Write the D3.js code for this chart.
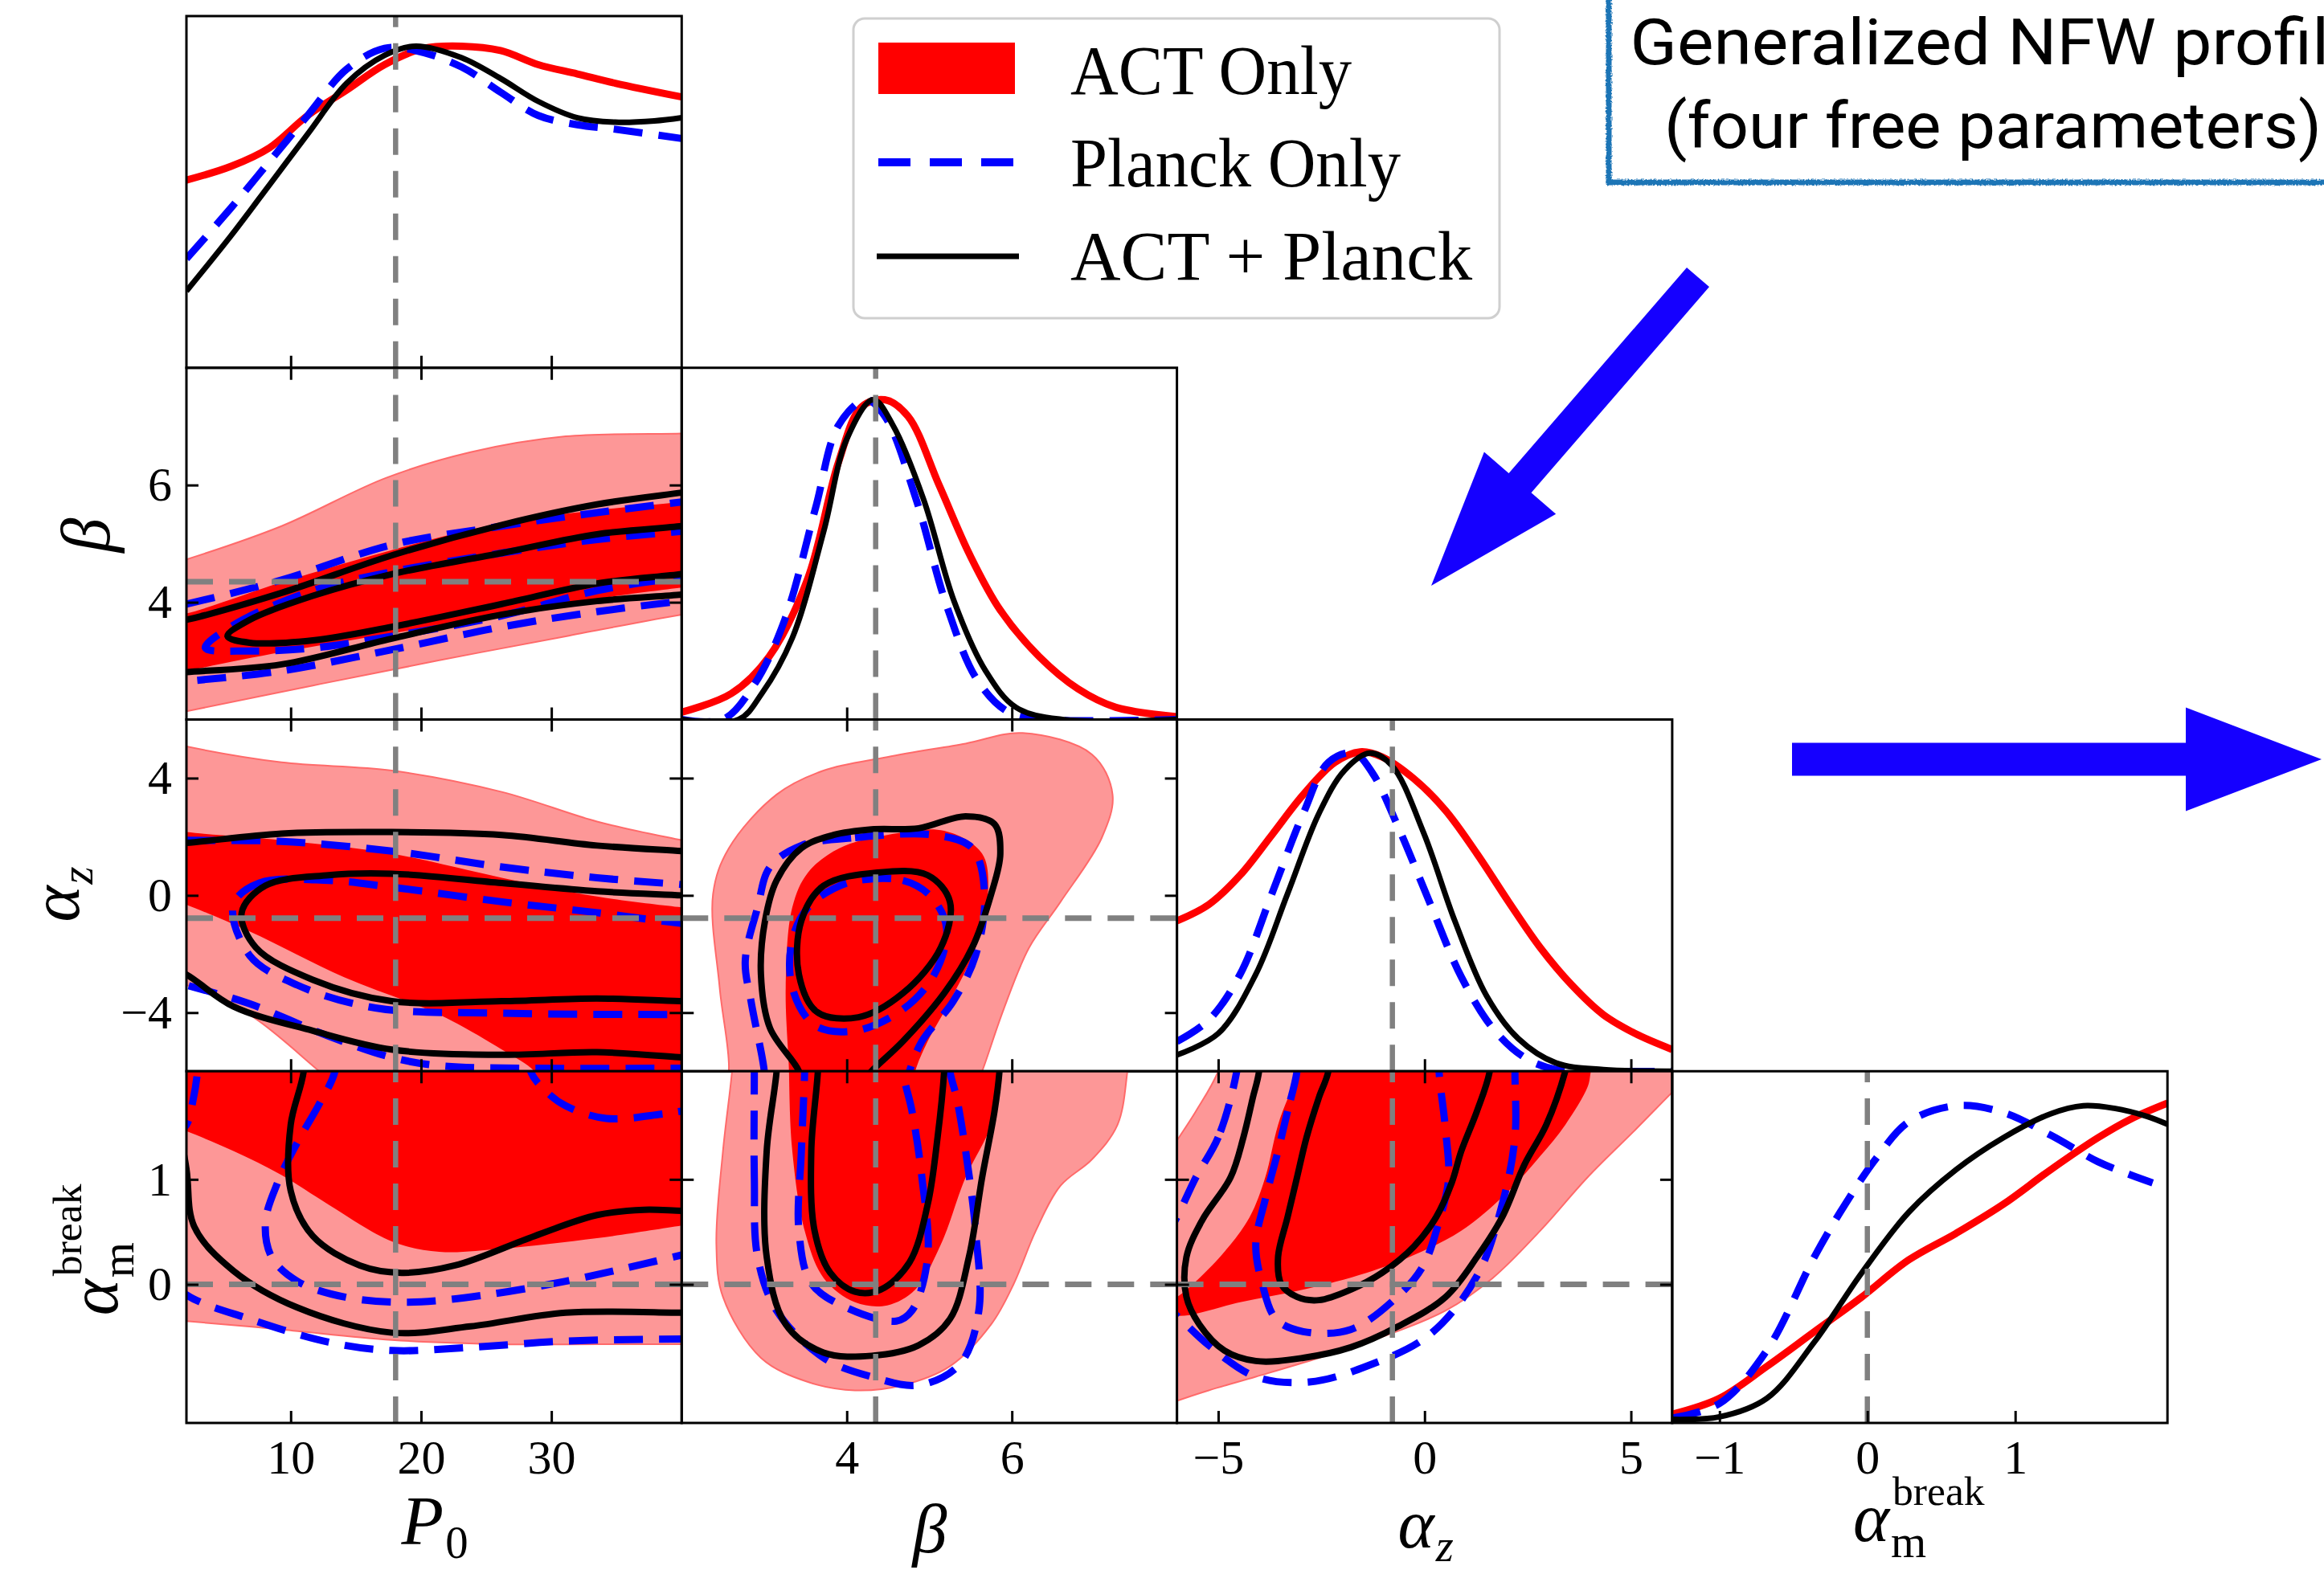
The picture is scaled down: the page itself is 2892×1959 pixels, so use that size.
<!DOCTYPE html>
<html>
<head>
<meta charset="utf-8">
<script src="https://cdn.jsdelivr.net/npm/d3@7"></script>
<style>
  html, body { margin: 0; padding: 0; background: #fff; }
  svg { display: block; }
  text { font-family: "Liberation Serif", "DejaVu Serif", serif; }
  text.note { font-family: Roboto, "Open Sans", sans-serif; }
</style>
</head>
<body>
<svg id="chart" width="2892" height="1959"></svg>
<script>
// axis ranges, ticks and fiducial values, one entry per parameter
var DOMAINS = [[2, 40], [2, 8], [-6, 6], [-1.32, 2.03]];
var X_TICKS = [[10, 20, 30], [4, 6], [-5, 0, 5], [-1, 0, 1]];
var Y_TICKS = [[], [4, 6], [-4, 0, 4], [0, 1]];
var TRUTH = [18.05, 4.35, -0.78, 0];
var LEGEND_LABELS = ["ACT Only", "Planck Only", "ACT + Planck"];

// 1D marginals: [value, normalised density]
var P0_ACT = [[2,0.587],[5.42,0.63],[8.37,0.688],[11.3,0.789],[14.3,0.869],[17.2,0.948],[20.2,0.999],[23.1,1.006],[26.1,0.992],[29,0.948],[32,0.919],[34.9,0.89],[40,0.847]];
var P0_PLANCK = [[2,0.341],[5.42,0.5],[8.37,0.645],[11.3,0.789],[14.3,0.934],[17.2,0.999],[19.6,0.992],[23.1,0.941],[26.1,0.862],[29,0.789],[32,0.76],[34.9,0.746],[40,0.717]];
var P0_BOTH = [[2,0.24],[5.42,0.413],[8.37,0.572],[11.3,0.731],[14.3,0.89],[17.2,0.977],[19.6,1.006],[23.1,0.97],[26.1,0.905],[29,0.833],[32,0.782],[34.9,0.768],[37.9,0.772],[40,0.782]];

var BETA_ACT = [[2,0.023],[2.6,0.081],[3.06,0.197],[3.53,0.443],[3.9,0.805],[4.18,0.978],[4.46,1.0],[4.74,0.949],[5.12,0.732],[5.49,0.515],[5.86,0.342],[6.33,0.197],[6.8,0.096],[7.26,0.038],[8,0.009]];
var BETA_PLANCK = [[2,0],[2.5,0],[2.88,0.11],[3.25,0.313],[3.62,0.66],[3.9,0.92],[4.23,1.0],[4.46,0.949],[4.84,0.689],[5.21,0.356],[5.58,0.124],[5.96,0.023],[6.42,0],[8,0]];
var BETA_BOTH = [[2,0],[2.69,0],[2.97,0.081],[3.34,0.255],[3.72,0.588],[4.0,0.877],[4.32,1.0],[4.56,0.92],[4.93,0.689],[5.3,0.37],[5.68,0.153],[6.05,0.038],[6.61,0],[8,0]];

var AZ_ACT = [[-6,0.47],[-5.23,0.521],[-4.47,0.613],[-3.7,0.739],[-2.94,0.865],[-2.17,0.966],[-1.56,0.999],[-1.03,0.983],[-0.26,0.915],[0.51,0.815],[1.27,0.68],[2.04,0.529],[2.8,0.387],[3.57,0.269],[4.33,0.177],[5.1,0.118],[6,0.068]];
var AZ_PLANCK = [[-6,0.093],[-5.23,0.16],[-4.47,0.303],[-3.7,0.555],[-2.94,0.806],[-2.33,0.966],[-1.71,0.995],[-1.26,0.932],[-0.64,0.764],[0.12,0.529],[0.89,0.295],[1.65,0.135],[2.42,0.043],[3.18,0.005],[4,0],[6,0]];
var AZ_BOTH = [[-6,0.051],[-5.0,0.118],[-4.09,0.303],[-3.32,0.555],[-2.56,0.806],[-1.94,0.941],[-1.33,0.995],[-0.8,0.957],[-0.03,0.748],[0.73,0.471],[1.5,0.236],[2.27,0.102],[3.18,0.026],[4.33,0.005],[6,0]];

var AM_ACT = [[-1.32,0.027],[-1.0,0.077],[-0.68,0.177],[-0.36,0.285],[-0.04,0.393],[0.28,0.51],[0.6,0.593],[0.92,0.684],[1.24,0.792],[1.56,0.892],[1.78,0.95],[2.03,1.0]];
var AM_PLANCK = [[-1.32,0.015],[-1.0,0.061],[-0.68,0.227],[-0.36,0.518],[-0.15,0.684],[0.07,0.834],[0.28,0.942],[0.6,0.992],[0.92,0.971],[1.24,0.9],[1.56,0.817],[1.78,0.776],[1.93,0.751]];
var AM_BOTH = [[-1.32,0.011],[-1.0,0.019],[-0.68,0.077],[-0.36,0.252],[-0.04,0.468],[0.28,0.659],[0.6,0.792],[0.92,0.892],[1.24,0.967],[1.46,0.992],[1.67,0.984],[1.89,0.959],[2.03,0.934]];

// 2D contours [x, y]; points past the panel edge close the regions that leave the frame
var PB_ACT95 = [[0,4.6],[2,4.73],[9.3,5.3],[17.3,6.12],[23.8,6.56],[31.1,6.83],[40,6.88],[42,6.9],[42,3.85],[40,3.79],[31.1,3.42],[21.4,3.01],[11.7,2.58],[2,2.14],[0,2.05]];
var PB_ACT68 = [[0,3.75],[2,3.81],[9.3,4.34],[17.75,4.89],[26.2,5.35],[33.5,5.57],[40,5.71],[42,5.76],[42,4.3],[40,4.25],[33.5,4.06],[26.2,3.79],[17.75,3.47],[9.3,3.15],[2,2.83],[0,2.75]];
var PB_PLANCK95 = [[0,3.88],[2,3.97],[9.3,4.38],[17.75,4.98],[26.2,5.30],[33.5,5.53],[40,5.71],[42,5.76],[42,4.07],[40,4.02],[33.5,3.84],[26.2,3.58],[17.75,3.19],[9.3,2.83],[2,2.65],[0,2.6]];
var PB_PLANCK68 = [[3.45,3.22],[5.6,3.61],[11.7,4.20],[17.75,4.52],[26.2,4.84],[33.5,5.07],[40,5.21],[42,5.25],[42,4.5],[40,4.43],[33.5,4.2],[26.2,3.77],[17.75,3.42],[11.7,3.22],[6.85,3.17]];
var PB_BOTH95 = [[0,3.62],[2,3.70],[9.3,4.16],[17.75,4.8],[26.2,5.32],[33.5,5.67],[40,5.87],[42,5.93],[42,4.18],[40,4.13],[33.5,4.02],[26.2,3.79],[17.75,3.38],[9.3,2.94],[2,2.81],[0,2.78]];
var PB_BOTH68 = [[5.15,3.42],[6.85,3.70],[11.7,4.11],[17.75,4.48],[26.2,4.84],[33.5,5.16],[40,5.30],[42,5.36],[42,4.55],[40,4.48],[33.5,4.32],[26.2,3.97],[17.75,3.58],[11.7,3.35],[6.85,3.31]];

var PZ_ACT95 = [[0,5.3],[2,5.08],[9.3,4.54],[17.75,4.26],[26.2,3.53],[33.5,2.52],[40,1.88],[42,1.7],[42,-7],[13.6,-6.5],[12.2,-6],[6.85,-4.07],[2,-3.06],[0,-2.9]];
var PZ_ACT68 = [[0,2.3],[2,2.16],[9.3,1.88],[17.75,1.42],[26.2,0.6],[33.5,-0.04],[40,-0.41],[42,-0.5],[42,-7],[29.5,-6.6],[28.7,-6],[26.2,-5.26],[21.4,-4.07],[14.1,-2.79],[6.85,-1.23],[2,-0.32],[0,0]];
var PZ_PLANCK95 = [[0,1.9],[2,1.88],[9.3,1.84],[17.75,1.51],[26.2,0.97],[33.5,0.6],[40,0.37],[42,0.3],[42,-5.92],[40,-5.9],[28.7,-5.9],[21.4,-5.81],[17.75,-5.53],[12.9,-4.8],[6.85,-3.7],[2,-3.06],[0,-2.8]];
var PZ_PLANCK68 = [[5.6,-0.32],[7.6,0.42],[12.9,0.51],[17.75,0.28],[26.2,-0.22],[33.5,-0.59],[40,-0.96],[42,-1.05],[42,-4.08],[40,-4.07],[26.2,-4.02],[16.5,-3.84],[10.5,-3.06],[6.85,-2.05]];
var PZ_BOTH95 = [[0,1.75],[2,1.79],[9.3,2.11],[17.75,2.16],[26.2,2.06],[33.5,1.70],[40,1.51],[42,1.45],[42,-5.6],[40,-5.53],[33.5,-5.35],[26.2,-5.44],[17.75,-5.26],[11.7,-4.62],[5.6,-3.79],[2,-2.7],[0,-2.3]];
var PZ_BOTH68 = [[6.24,-0.59],[8.06,0.33],[12.9,0.69],[17.75,0.74],[26.2,0.42],[33.5,0.14],[40,0],[42,-0.05],[42,-3.62],[40,-3.61],[33.5,-3.52],[26.2,-3.61],[17.75,-3.61],[11.7,-2.88],[7.33,-1.78]];

var BZ_ACT95 = [[6.13,5.54],[6.97,4.81],[7.22,3.44],[7.09,1.97],[6.59,-0.22],[6.21,-1.78],[5.9,-3.89],[5.64,-6],[5.55,-6.6],[2.5,-6.6],[2.57,-6],[2.46,-3.15],[2.38,0.05],[2.57,1.6],[3.15,3.44],[3.72,4.26],[4.49,4.72],[5.44,5.18]];
var BZ_ACT68 = [[5.18,2.2],[5.64,1.42],[5.71,0.05],[5.56,-1.78],[5.25,-3.61],[4.98,-4.98],[4.83,-6],[4.8,-6.6],[3.3,-6.6],[3.3,-6],[3.26,-3.15],[3.34,-0.41],[3.53,0.78],[3.91,1.61],[4.49,2.06]];
var BZ_PLANCK95 = [[3.45,1.7],[4.1,1.97],[5.06,2.06],[5.52,1.61],[5.67,0.05],[5.56,-2.05],[5.29,-3.61],[4.91,-4.98],[4.76,-6],[4.72,-6.5],[3.0,-6.5],[3.0,-6],[2.84,-3.61],[2.77,-2.24],[2.92,-0.41],[3.07,0.97]];
var BZ_PLANCK68 = [[4.14,0.51],[4.68,0.51],[5.02,-0.04],[5.21,-1.14],[5.06,-2.7],[4.68,-3.89],[4.1,-4.62],[3.61,-4.43],[3.34,-3.15],[3.34,-1.5],[3.53,-0.41],[3.84,0.23]];
var BZ_BOTH95 = [[4.3,2.25],[4.87,2.29],[5.44,2.7],[5.79,2.43],[5.86,1.42],[5.75,0.05],[5.52,-1.78],[5.18,-3.34],[4.68,-4.98],[4.3,-6],[4.15,-6.5],[3.45,-6.5],[3.42,-6],[3.07,-4.53],[2.96,-2.7],[3.01,-0.86],[3.15,0.51],[3.45,1.61],[3.84,2.06]];
var BZ_BOTH68 = [[4.37,0.78],[4.98,0.69],[5.25,-0.22],[5.14,-1.78],[4.68,-3.34],[4.14,-4.16],[3.64,-3.98],[3.42,-2.7],[3.45,-0.86],[3.72,0.33]];

var PM_ACT95 = [[0,2.6],[42,2.6],[42,-0.57],[40,-0.57],[33.5,-0.57],[26.2,-0.57],[17.75,-0.53],[9.3,-0.43],[2,-0.35],[0,-0.33]];
var PM_ACT68 = [[0,2.6],[42,2.6],[42,0.6],[40,0.56],[33.5,0.44],[26.2,0.34],[21.4,0.31],[17.75,0.41],[12.9,0.76],[9.3,1.04],[5.6,1.27],[2,1.46],[0,1.55]];
var PM_PLANCK95 = [[3.0,2.6],[42,2.6],[42,-0.52],[40,-0.52],[31.1,-0.54],[23.8,-0.6],[17.75,-0.63],[12.9,-0.55],[6.85,-0.33],[2,-0.10],[0.5,0.1],[0.5,1.35],[2.0,1.52],[2.5,1.75],[2.85,2.03]];
var PM_PLANCK68 = [[13.4,2.03],[12.2,1.72],[10.5,1.35],[9.0,0.97],[8.06,0.59],[8.54,0.26],[10.5,0.03],[14.1,-0.12],[19,-0.17],[25,-0.10],[31.1,0.03],[35.9,0.16],[40,0.28],[42,0.34],[42,1.66],[40,1.65],[38.4,1.62],[34.2,1.58],[31.1,1.70],[29.5,1.85],[28.4,2.03],[27.8,2.6],[13.8,2.6]];
var PM_BOTH95 = [[0,2.6],[42,2.6],[42,-0.27],[40,-0.27],[31.1,-0.27],[23.8,-0.4],[17.75,-0.46],[10.5,-0.22],[5.6,0.13],[2.6,0.55],[2.0,1.1],[1.0,1.8]];
var PM_BOTH68 = [[11.2,2.6],[42,2.6],[42,0.7],[40,0.7],[37.1,0.71],[33.5,0.66],[28.7,0.46],[22.6,0.18],[18.5,0.11],[15.3,0.18],[11.7,0.46],[10,0.89],[10,1.52],[11,2.03]];

var BM_ACT95 = [[2.61,2.03],[2.5,1.27],[2.42,0.38],[2.5,-0.12],[2.96,-0.70],[3.53,-0.93],[4.1,-1.01],[4.68,-0.96],[5.25,-0.78],[5.75,-0.38],[6.02,0],[6.29,0.51],[6.59,0.94],[6.97,1.19],[7.28,1.52],[7.4,2.03],[7.45,2.5],[2.65,2.5]];
var BM_ACT68 = [[3.3,2.03],[3.34,1.27],[3.49,0.51],[3.72,0.06],[4.1,-0.17],[4.49,-0.2],[4.83,-0.05],[5.14,0.38],[5.44,1.02],[5.75,1.52],[5.87,2.03],[5.92,2.5],[3.3,2.5]];
var BM_PLANCK95 = [[2.88,2.03],[2.88,1.02],[2.92,0.26],[3.15,-0.25],[3.72,-0.7],[4.3,-0.88],[4.87,-0.96],[5.37,-0.76],[5.6,-0.25],[5.56,0.51],[5.44,1.27],[5.33,1.78],[5.25,2.03],[5.22,2.5],[2.88,2.5]];
var BM_PLANCK68 = [[3.49,2.03],[3.45,1.27],[3.42,0.51],[3.57,0.01],[3.99,-0.22],[4.6,-0.35],[4.79,-0.25],[4.98,0.26],[4.91,1.02],[4.79,1.65],[4.68,2.03],[4.66,2.5],[3.5,2.5]];
var BM_BOTH95 = [[3.15,2.03],[3.03,1.27],[3.03,0.26],[3.26,-0.38],[3.72,-0.65],[4.3,-0.68],[4.87,-0.58],[5.25,-0.33],[5.48,0.26],[5.64,1.02],[5.79,1.65],[5.85,2.03],[5.87,2.5],[3.18,2.5]];
var BM_BOTH68 = [[3.65,2.03],[3.57,1.27],[3.61,0.51],[3.8,0.11],[4.1,-0.07],[4.41,-0.05],[4.76,0.21],[4.98,0.76],[5.1,1.4],[5.18,2.03],[5.2,2.5],[3.67,2.5]];

var ZM_ACT95 = [[-6.6,1.0],[-6,1.37],[-5.54,1.65],[-5.0,2.03],[-4.6,2.6],[6.6,2.6],[6.6,2.06],[6,1.83],[5.1,1.47],[3.95,1.02],[2.8,0.51],[1.65,0.06],[0.51,-0.25],[-1.03,-0.5],[-2.56,-0.70],[-4.09,-0.88],[-5.23,-1.01],[-6,-1.11],[-6.6,-1.2]];
var ZM_ACT68 = [[-3.09,2.03],[-3.55,1.52],[-3.86,1.02],[-4.24,0.64],[-4.85,0.31],[-5.62,0.0],[-6,-0.12],[-6.5,-0.22],[-6,-0.30],[-4.47,-0.17],[-2.94,-0.05],[-1.41,0.11],[-0.26,0.28],[0.89,0.51],[2.04,0.89],[2.8,1.22],[3.41,1.52],[3.95,1.88],[4.03,2.03],[4.3,2.6],[-2.9,2.6]];
var ZM_PLANCK95 = [[-4.55,2.03],[-5.0,1.4],[-5.54,1.02],[-6,0.64],[-6.6,0.2],[-6.6,-0.1],[-6,-0.3],[-5.23,-0.58],[-4.09,-0.88],[-2.79,-0.93],[-1.41,-0.78],[0.12,-0.48],[1.27,0.08],[1.88,0.76],[2.19,1.4],[2.19,2.03],[2.2,2.6],[-4.4,2.6]];
var ZM_PLANCK68 = [[-3.09,2.03],[-3.32,1.65],[-3.55,1.27],[-3.86,0.81],[-4.09,0.38],[-3.93,0.0],[-3.6,-0.33],[-2.94,-0.45],[-1.79,-0.43],[-0.64,-0.11],[-0.03,0.18],[0.35,0.6],[0.58,1.0],[0.5,1.5],[0.35,2.03],[0.3,2.6],[-3.0,2.6]];
var ZM_BOTH95 = [[-4.01,2.03],[-4.16,1.78],[-4.39,1.40],[-4.7,1.02],[-5.39,0.61],[-5.77,0.26],[-5.77,-0.12],[-5.46,-0.38],[-4.85,-0.63],[-4.09,-0.73],[-2.94,-0.70],[-1.79,-0.6],[-0.64,-0.40],[0.51,-0.12],[1.27,0.26],[1.88,0.64],[2.42,1.14],[2.95,1.52],[3.41,2.03],[3.7,2.6],[-3.95,2.6]];
var ZM_BOTH68 = [[-2.33,2.03],[-2.56,1.78],[-2.86,1.40],[-3.09,1.02],[-3.32,0.64],[-3.55,0.26],[-3.47,0.0],[-3.09,-0.12],[-2.56,-0.15],[-1.79,-0.05],[-1.03,0.11],[-0.26,0.36],[0.28,0.64],[0.66,0.97],[0.89,1.27],[1.27,1.65],[1.58,2.03],[1.7,2.6],[-2.2,2.6]];

var MARGINALS = [
  { act: P0_ACT, planck: P0_PLANCK, both: P0_BOTH },
  { act: BETA_ACT, planck: BETA_PLANCK, both: BETA_BOTH },
  { act: AZ_ACT, planck: AZ_PLANCK, both: AZ_BOTH },
  { act: AM_ACT, planck: AM_PLANCK, both: AM_BOTH }
];
var PAIRS = {
  "1-0": [PB_ACT95, PB_ACT68, PB_PLANCK95, PB_PLANCK68, PB_BOTH95, PB_BOTH68],
  "2-0": [PZ_ACT95, PZ_ACT68, PZ_PLANCK95, PZ_PLANCK68, PZ_BOTH95, PZ_BOTH68],
  "2-1": [BZ_ACT95, BZ_ACT68, BZ_PLANCK95, BZ_PLANCK68, BZ_BOTH95, BZ_BOTH68],
  "3-0": [PM_ACT95, PM_ACT68, PM_PLANCK95, PM_PLANCK68, PM_BOTH95, PM_BOTH68],
  "3-1": [BM_ACT95, BM_ACT68, BM_PLANCK95, BM_PLANCK68, BM_BOTH95, BM_BOTH68],
  "3-2": [ZM_ACT95, ZM_ACT68, ZM_PLANCK95, ZM_PLANCK68, ZM_BOTH95, ZM_BOTH68]
};

// layout
var LEFT = 232, TOP = 20, CELL_W = 616.3, CELL_H = 437.75;
var LIGHT_RED = "#fd9797", RED = "#ff0000", BLUE = "#0000ff", GREY = "#808080";
var ARROW_BLUE = "#1500ff";

var svg = d3.select("#chart");
var defs = svg.append("defs");
svg.append("rect").attr("width", 2892).attr("height", 1959).attr("fill", "#fff");

var closedCurve = d3.line().curve(d3.curveCatmullRomClosed.alpha(0.5));
var openCurve = d3.line().curve(d3.curveCatmullRom.alpha(0.5));

function fmtTick(v) {
  return v < 0 ? "\u2212" + Math.abs(v) : String(v);
}

function project(pts, x, y) {
  return pts.map(function(p) { return [x(p[0]), y(p[1])]; });
}

function drawPanel(r, c) {
  var g = svg.append("g")
    .attr("transform", "translate(" + (LEFT + c * CELL_W) + "," + (TOP + r * CELL_H) + ")");
  var x = d3.scaleLinear().domain(DOMAINS[c]).range([0, CELL_W]);
  var diag = r === c;
  var y = diag
    ? d3.scaleLinear().domain([0, 1.1]).range([CELL_H, 0])
    : d3.scaleLinear().domain(DOMAINS[r]).range([CELL_H, 0]);

  var clipId = "clip-" + r + "-" + c;
  defs.append("clipPath").attr("id", clipId)
    .append("rect").attr("width", CELL_W).attr("height", CELL_H);
  var body = g.append("g").attr("clip-path", "url(#" + clipId + ")");

  if (diag) {
    var m = MARGINALS[c];
    body.append("path").attr("d", openCurve(project(m.act, x, y)))
      .attr("fill", "none").attr("stroke", RED).attr("stroke-width", 9);
    body.append("path").attr("d", openCurve(project(m.planck, x, y)))
      .attr("fill", "none").attr("stroke", BLUE).attr("stroke-width", 9)
      .attr("stroke-dasharray", "36,20");
    body.append("path").attr("d", openCurve(project(m.both, x, y)))
      .attr("fill", "none").attr("stroke", "#000").attr("stroke-width", 7);
  } else {
    var s = PAIRS[r + "-" + c];
    body.append("path").attr("d", closedCurve(project(s[0], x, y)))
      .attr("fill", LIGHT_RED).attr("stroke", "#ff6a6a").attr("stroke-width", 2);
    body.append("path").attr("d", closedCurve(project(s[1], x, y)))
      .attr("fill", RED);
    [s[2], s[3]].forEach(function(pts) {
      body.append("path").attr("d", closedCurve(project(pts, x, y)))
        .attr("fill", "none").attr("stroke", BLUE).attr("stroke-width", 9)
        .attr("stroke-dasharray", "36,20");
    });
    [s[4], s[5]].forEach(function(pts) {
      body.append("path").attr("d", closedCurve(project(pts, x, y)))
        .attr("fill", "none").attr("stroke", "#000").attr("stroke-width", 8);
    });
    // horizontal fiducial line
    body.append("line")
      .attr("x1", 0).attr("x2", CELL_W)
      .attr("y1", y(TRUTH[r])).attr("y2", y(TRUTH[r]))
      .attr("stroke", GREY).attr("stroke-width", 7).attr("stroke-dasharray", "33,20");
  }
  // vertical fiducial line, drawn bottom to top
  body.append("line")
    .attr("x1", x(TRUTH[c])).attr("x2", x(TRUTH[c]))
    .attr("y1", CELL_H).attr("y2", 0)
    .attr("stroke", GREY).attr("stroke-width", 6.5).attr("stroke-dasharray", "33,20");

  // inward ticks
  var bottom = g.append("g").attr("transform", "translate(0," + CELL_H + ")")
    .call(d3.axisBottom(x).tickValues(X_TICKS[c]).tickSize(-15).tickSizeOuter(0)
      .tickPadding(20).tickFormat(r === 3 ? fmtTick : function() { return ""; }));
  styleAxis(bottom);
  bottom.selectAll("text").attr("font-size", 60).attr("dy", "0.71em");

  if (!diag) {
    var top = g.append("g")
      .call(d3.axisTop(x).tickValues(X_TICKS[c]).tickSize(-15).tickSizeOuter(0).tickFormat(""));
    styleAxis(top);
    var left = g.append("g")
      .call(d3.axisLeft(y).tickValues(Y_TICKS[r]).tickSize(-15).tickSizeOuter(0)
        .tickPadding(18).tickFormat(c === 0 ? fmtTick : function() { return ""; }));
    styleAxis(left);
    left.selectAll("text").attr("font-size", 60);
    var right = g.append("g").attr("transform", "translate(" + CELL_W + ",0)")
      .call(d3.axisRight(y).tickValues(Y_TICKS[r]).tickSize(-15).tickSizeOuter(0).tickFormat(""));
    styleAxis(right);
  }

  g.append("rect").attr("width", CELL_W).attr("height", CELL_H)
    .attr("fill", "none").attr("stroke", "#000").attr("stroke-width", 3);
}

function styleAxis(sel) {
  sel.select(".domain").remove();
  sel.selectAll(".tick line").attr("stroke", "#000").attr("stroke-width", 3);
  sel.selectAll("text").attr("fill", "#000")
    .attr("font-family", "'Liberation Serif', 'DejaVu Serif', serif");
}

for (var r = 0; r < 4; r++) {
  for (var c = 0; c <= r; c++) drawPanel(r, c);
}

// axis labels: symbol, then stacked subscript / superscript as their own texts
var LABEL_FS = 86;
function mathLabel(parent, L, anchorX) {
  var t = parent.append("text").attr("font-size", LABEL_FS).attr("font-style", "italic")
    .attr("x", anchorX).attr("text-anchor", "end").text(L.base);
  if (L.sub) {
    parent.append("text").attr("font-size", LABEL_FS * 0.66)
      .attr("font-style", L.subItalic ? "italic" : "normal")
      .attr("x", anchorX + 2).attr("y", LABEL_FS * (L.sup ? 0.23 : 0.2)).text(L.sub);
  }
  if (L.sup) {
    parent.append("text").attr("font-size", LABEL_FS * 0.6)
      .attr("x", anchorX + 4).attr("y", -LABEL_FS * 0.52).text(L.sup);
  }
  return t;
}
var LABELS = [
  { base: "P", sub: "0", sup: null, subItalic: false, shift: 12, yShift: 12 },
  { base: "\u03b2", sub: null, sup: null, subItalic: false, shift: 22, yShift: 32 },
  { base: "\u03b1", sub: "z", sup: null, subItalic: true, shift: 12, yShift: 12 },
  { base: "\u03b1", sub: "m", sup: "break", subItalic: false, shift: -38, yShift: -40 }
];
var X_LABEL_BASE = [1922, 1932, 1926, 1918];
LABELS.forEach(function(L, i) {
  var cx = LEFT + (i + 0.5) * CELL_W;
  var g = svg.append("g").attr("transform", "translate(" + cx + "," + X_LABEL_BASE[i] + ")");
  mathLabel(g, L, L.shift);
});
var Y_LABEL_X = [0, 136, 98, 146];
[1, 2, 3].forEach(function(i) {
  var L = LABELS[i];
  var cy = TOP + (i + 0.5) * CELL_H;
  var g = svg.append("g").attr("transform", "translate(" + Y_LABEL_X[i] + "," + cy + ") rotate(-90)");
  mathLabel(g, L, L.yShift);
});

// legend
var legend = svg.append("g");
legend.append("rect").attr("x", 1062).attr("y", 23).attr("width", 804).attr("height", 373)
  .attr("rx", 14).attr("fill", "#fff").attr("fill-opacity", 0.85)
  .attr("stroke", "#cfcfcf").attr("stroke-width", 3);
legend.append("rect").attr("x", 1093).attr("y", 53).attr("width", 170).attr("height", 64)
  .attr("fill", RED);
legend.append("line").attr("x1", 1093).attr("x2", 1263).attr("y1", 202).attr("y2", 202)
  .attr("stroke", BLUE).attr("stroke-width", 10).attr("stroke-dasharray", "40,24");
legend.append("line").attr("x1", 1091).attr("x2", 1268).attr("y1", 319).attr("y2", 319)
  .attr("stroke", "#000").attr("stroke-width", 7);
var LEGEND_Y = [117, 232, 348];
var LEGEND_W = [350, 411, 500];
LEGEND_LABELS.forEach(function(txt, i) {
  legend.append("text").attr("x", 1332).attr("y", LEGEND_Y[i])
    .attr("font-size", 86).attr("textLength", LEGEND_W[i])
    .attr("lengthAdjust", "spacingAndGlyphs").text(txt);
});

// annotation box
var rough = defs.append("filter").attr("id", "rough")
  .attr("x", "-5%").attr("y", "-5%").attr("width", "110%").attr("height", "110%");
rough.append("feTurbulence").attr("type", "fractalNoise").attr("baseFrequency", 0.5)
  .attr("numOctaves", 2).attr("seed", 3).attr("result", "noise");
rough.append("feDisplacementMap").attr("in", "SourceGraphic").attr("in2", "noise")
  .attr("scale", 5).attr("xChannelSelector", "R").attr("yChannelSelector", "G");
svg.append("rect").attr("x", 2002).attr("y", -30).attr("width", 1000).attr("height", 257)
  .attr("fill", "#fff").attr("stroke", "#1f74b6").attr("stroke-width", 7)
  .attr("filter", "url(#rough)");
var NOTE_LINES = ["Generalized NFW profile", "(four free parameters)"];
var NOTE_Y = [80, 184], NOTE_X = [2486, 2480], NOTE_W = [915, 818];
NOTE_LINES.forEach(function(txt, i) {
  svg.append("text").attr("class", "note").attr("x", NOTE_X[i]).attr("y", NOTE_Y[i])
    .attr("text-anchor", "middle")
    .attr("font-size", 80).attr("textLength", NOTE_W[i])
    .attr("lengthAdjust", "spacingAndGlyphs").attr("fill", "#000").text(txt);
});

// arrows
function arrowPoints(x0, y0, x1, y1, shaftW, headW, headL) {
  var dx = x1 - x0, dy = y1 - y0, len = Math.hypot(dx, dy);
  var ux = dx / len, uy = dy / len, nx = -uy, ny = ux;
  var bx = x1 - ux * headL, by = y1 - uy * headL;
  return [
    [x0 + nx * shaftW / 2, y0 + ny * shaftW / 2],
    [bx + nx * shaftW / 2, by + ny * shaftW / 2],
    [bx + nx * headW / 2, by + ny * headW / 2],
    [x1, y1],
    [bx - nx * headW / 2, by - ny * headW / 2],
    [bx - nx * shaftW / 2, by - ny * shaftW / 2],
    [x0 - nx * shaftW / 2, y0 - ny * shaftW / 2]
  ];
}
var ARROWS = [
  arrowPoints(2113, 345, 1781, 729, 37, 118, 169),
  arrowPoints(2230, 945, 2889, 945, 41, 129, 169)
];
ARROWS.forEach(function(pts) {
  svg.append("polygon").attr("points", pts.map(function(p) { return p.join(","); }).join(" "))
    .attr("fill", ARROW_BLUE);
});
</script>
</body>
</html>
